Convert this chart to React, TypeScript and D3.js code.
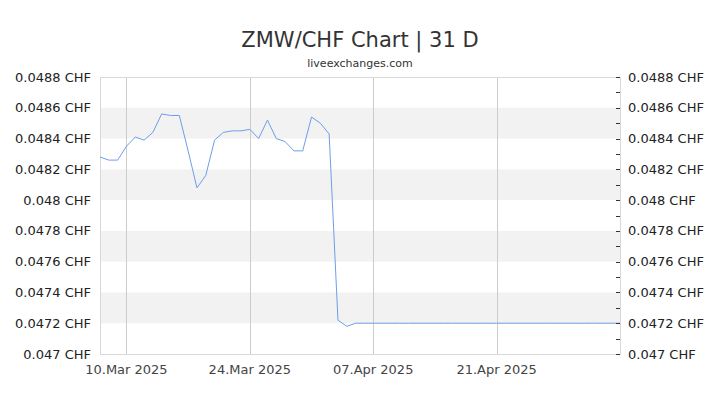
import React from "react";
import * as d3 from "d3";

const startDate = new Date(2025, 2, 7);
const endDate = new Date(2025, 4, 5);

// ZMW/CHF daily rate, one value per day from 7 Mar 2025
const rates = [
  0.04828, 0.04826, 0.04826, 0.04835, 0.04841, 0.04839, 0.04844, 0.04856,
  0.04855, 0.04855, 0.04832, 0.04808, 0.04816, 0.04839, 0.04844, 0.04845,
  0.04845, 0.04846, 0.0484, 0.04852, 0.0484, 0.04838, 0.04832, 0.04832,
  0.04854, 0.0485, 0.04843, 0.04722, 0.04718, 0.0472, 0.0472, 0.0472,
  0.0472, 0.0472, 0.0472, 0.0472, 0.0472, 0.0472, 0.0472, 0.0472,
  0.0472, 0.0472, 0.0472, 0.0472, 0.0472, 0.0472, 0.0472, 0.0472,
  0.0472, 0.0472, 0.0472, 0.0472, 0.0472, 0.0472, 0.0472, 0.0472,
  0.0472, 0.0472, 0.0472, 0.0472,
];

const yTicks = [0.047, 0.0472, 0.0474, 0.0476, 0.0478, 0.048, 0.0482, 0.0484, 0.0486, 0.0488];
const xTickDates = [
  new Date(2025, 2, 10),
  new Date(2025, 2, 24),
  new Date(2025, 3, 7),
  new Date(2025, 3, 21),
];

const width = 720;
const height = 405;
const margin = { top: 77, right: 100, bottom: 51, left: 100 };
const font = "'DejaVu Sans', sans-serif";

const App: React.FC = () => {
  const x = d3
    .scaleTime()
    .domain([startDate, endDate])
    .range([margin.left, width - margin.right]);
  const y = d3
    .scaleLinear()
    .domain([0.047, 0.0488])
    .range([height - margin.bottom, margin.top]);

  const points = rates.map((v, i) => ({ date: d3.timeDay.offset(startDate, i), value: v }));
  const line = d3
    .line<{ date: Date; value: number }>()
    .x((d) => x(d.date))
    .y((d) => y(d.value));

  const fmtTick = (v: number) => `${d3.format(".4~f")(v)} CHF`;
  const fmtDate = d3.timeFormat("%d.%b %Y");

  const x0 = margin.left;
  const x1 = width - margin.right;
  const y0 = margin.top;
  const y1 = height - margin.bottom;

  // minor tick positions between majors
  const minorTicks = yTicks.slice(0, -1).map((t, i) => (t + yTicks[i + 1]) / 2);

  return (
    <svg
      width={width}
      height={height}
      style={{ position: "absolute", left: 0, top: 0, background: "#fff" }}
      fontFamily={font}
    >
      <rect x={0} y={0} width={width} height={height} fill="#fff" />
      <text x={width / 2} y={47} textAnchor="middle" fontSize={21} fill="#333">
        ZMW/CHF Chart | 31 D
      </text>
      <text x={width / 2} y={67} textAnchor="middle" fontSize={11} fill="#333">
        liveexchanges.com
      </text>

      {/* alternating bands */}
      {yTicks.slice(0, -1).map((t, i) =>
        i % 2 === 1 ? (
          <rect
            key={`band-${i}`}
            x={x0}
            y={y(yTicks[i + 1])}
            width={x1 - x0}
            height={y(t) - y(yTicks[i + 1])}
            fill="#f2f2f2"
          />
        ) : null
      )}

      {/* vertical grid lines */}
      {xTickDates.map((d, i) => (
        <line
          key={`vg-${i}`}
          x1={Math.round(x(d)) + 0.5}
          x2={Math.round(x(d)) + 0.5}
          y1={y0}
          y2={y1}
          stroke="#cccccc"
          strokeWidth={1}
        />
      ))}

      {/* plot border */}
      <rect x={x0 + 0.5} y={y0 + 0.5} width={x1 - x0} height={y1 - y0} fill="none" stroke="#d8d8d8" />

      <path d={line(points) ?? ""} fill="none" stroke="#6d9eeb" strokeWidth={1} />

      {/* left axis labels */}
      {yTicks.map((t, i) => (
        <text key={`yl-${i}`} x={91} y={y(t)} dy="0.35em" textAnchor="end" fontSize={13} fill="#222">
          {fmtTick(t)}
        </text>
      ))}

      {/* right axis ticks and labels */}
      {yTicks.map((t, i) => (
        <g key={`yr-${i}`}>
          <line x1={x1 - 4} x2={x1} y1={Math.round(y(t)) + 0.5} y2={Math.round(y(t)) + 0.5} stroke="#333" />
          <text x={628} y={y(t)} dy="0.35em" fontSize={13} fill="#222">
            {fmtTick(t)}
          </text>
        </g>
      ))}
      {minorTicks.map((t, i) => (
        <line
          key={`ym-${i}`}
          x1={x1 - 4}
          x2={x1}
          y1={Math.round(y(t)) + 0.5}
          y2={Math.round(y(t)) + 0.5}
          stroke="#333"
        />
      ))}

      {/* x axis labels */}
      {xTickDates.map((d, i) => (
        <text key={`xl-${i}`} x={x(d)} y={374} textAnchor="middle" fontSize={13} fill="#444">
          {fmtDate(d)}
        </text>
      ))}
    </svg>
  );
};

export default App;
